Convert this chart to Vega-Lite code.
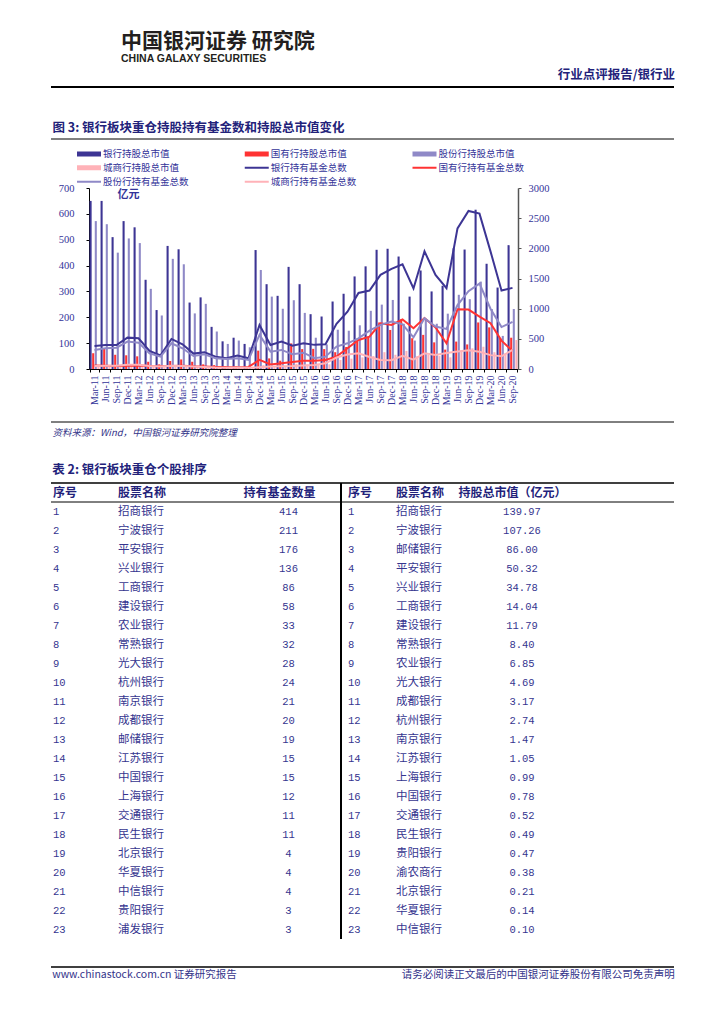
{
  "$schema": "https://vega.github.io/schema/vega-lite/v6.json",
  "padding": {"left": 50, "right": 51, "top": 31, "bottom": 0},
  "config": {
    "view": {"stroke": null},
    "font": "Noto Sans CJK SC",
    "axis": {"grid": false},
    "title": {"font": "Noto Sans CJK SC"}
  },
  "title": {
    "text": "中国银河证券  研究院",
    "subtitle": "CHINA GALAXY SECURITIES",
    "anchor": "start",
    "frame": "group",
    "dx": 70,
    "fontSize": 21,
    "fontWeight": "bold",
    "color": "#231f20",
    "subtitleFont": "Liberation Sans Narrow, Liberation Sans",
    "subtitleFontSize": 10.5,
    "subtitleFontWeight": "bold",
    "subtitleColor": "#231f20",
    "subtitlePadding": 2,
    "offset": 4
  },
  "datasets": {
    "bars": [
      {"q":"Mar-11","s":"银行持股总市值","v":650},{"q":"Jun-11","s":"银行持股总市值","v":650},{"q":"Sep-11","s":"银行持股总市值","v":510},{"q":"Dec-11","s":"银行持股总市值","v":572},
      {"q":"Mar-12","s":"银行持股总市值","v":548},{"q":"Jun-12","s":"银行持股总市值","v":345},{"q":"Sep-12","s":"银行持股总市值","v":228},{"q":"Dec-12","s":"银行持股总市值","v":476},
      {"q":"Mar-13","s":"银行持股总市值","v":463},{"q":"Jun-13","s":"银行持股总市值","v":257},{"q":"Sep-13","s":"银行持股总市值","v":277},{"q":"Dec-13","s":"银行持股总市值","v":163},
      {"q":"Mar-14","s":"银行持股总市值","v":107},{"q":"Jun-14","s":"银行持股总市值","v":121},{"q":"Sep-14","s":"银行持股总市值","v":97},{"q":"Dec-14","s":"银行持股总市值","v":460},
      {"q":"Mar-15","s":"银行持股总市值","v":328},{"q":"Jun-15","s":"银行持股总市值","v":283},{"q":"Sep-15","s":"银行持股总市值","v":395},{"q":"Dec-15","s":"银行持股总市值","v":328},
      {"q":"Mar-16","s":"银行持股总市值","v":212},{"q":"Jun-16","s":"银行持股总市值","v":203},{"q":"Sep-16","s":"银行持股总市值","v":261},{"q":"Dec-16","s":"银行持股总市值","v":291},
      {"q":"Mar-17","s":"银行持股总市值","v":358},{"q":"Jun-17","s":"银行持股总市值","v":397},{"q":"Sep-17","s":"银行持股总市值","v":461},{"q":"Dec-17","s":"银行持股总市值","v":465},
      {"q":"Mar-18","s":"银行持股总市值","v":435},{"q":"Jun-18","s":"银行持股总市值","v":280},{"q":"Sep-18","s":"银行持股总市值","v":381},{"q":"Dec-18","s":"银行持股总市值","v":300},
      {"q":"Mar-19","s":"银行持股总市值","v":322},{"q":"Jun-19","s":"银行持股总市值","v":467},{"q":"Sep-19","s":"银行持股总市值","v":462},{"q":"Dec-19","s":"银行持股总市值","v":616},
      {"q":"Mar-20","s":"银行持股总市值","v":407},{"q":"Jun-20","s":"银行持股总市值","v":315},{"q":"Sep-20","s":"银行持股总市值","v":479},

      {"q":"Mar-11","s":"国有行持股总市值","v":61},{"q":"Jun-11","s":"国有行持股总市值","v":78},{"q":"Sep-11","s":"国有行持股总市值","v":55},{"q":"Dec-11","s":"国有行持股总市值","v":53},
      {"q":"Mar-12","s":"国有行持股总市值","v":49},{"q":"Jun-12","s":"国有行持股总市值","v":28},{"q":"Sep-12","s":"国有行持股总市值","v":18},{"q":"Dec-12","s":"国有行持股总市值","v":31},
      {"q":"Mar-13","s":"国有行持股总市值","v":37},{"q":"Jun-13","s":"国有行持股总市值","v":28},{"q":"Sep-13","s":"国有行持股总市值","v":18},{"q":"Dec-13","s":"国有行持股总市值","v":15},
      {"q":"Mar-14","s":"国有行持股总市值","v":10},{"q":"Jun-14","s":"国有行持股总市值","v":10},{"q":"Sep-14","s":"国有行持股总市值","v":8},{"q":"Dec-14","s":"国有行持股总市值","v":71},
      {"q":"Mar-15","s":"国有行持股总市值","v":41},{"q":"Jun-15","s":"国有行持股总市值","v":32},{"q":"Sep-15","s":"国有行持股总市值","v":99},{"q":"Dec-15","s":"国有行持股总市值","v":77},
      {"q":"Mar-16","s":"国有行持股总市值","v":78},{"q":"Jun-16","s":"国有行持股总市值","v":77},{"q":"Sep-16","s":"国有行持股总市值","v":65},{"q":"Dec-16","s":"国有行持股总市值","v":85},
      {"q":"Mar-17","s":"国有行持股总市值","v":108},{"q":"Jun-17","s":"国有行持股总市值","v":125},{"q":"Sep-17","s":"国有行持股总市值","v":180},{"q":"Dec-17","s":"国有行持股总市值","v":151},
      {"q":"Mar-18","s":"国有行持股总市值","v":192},{"q":"Jun-18","s":"国有行持股总市值","v":119},{"q":"Sep-18","s":"国有行持股总市值","v":132},{"q":"Dec-18","s":"国有行持股总市值","v":103},
      {"q":"Mar-19","s":"国有行持股总市值","v":75},{"q":"Jun-19","s":"国有行持股总市值","v":106},{"q":"Sep-19","s":"国有行持股总市值","v":95},{"q":"Dec-19","s":"国有行持股总市值","v":180},
      {"q":"Mar-20","s":"国有行持股总市值","v":161},{"q":"Jun-20","s":"国有行持股总市值","v":119},{"q":"Sep-20","s":"国有行持股总市值","v":121},

      {"q":"Mar-11","s":"股份行持股总市值","v":572},{"q":"Jun-11","s":"股份行持股总市值","v":560},{"q":"Sep-11","s":"股份行持股总市值","v":450},{"q":"Dec-11","s":"股份行持股总市值","v":505},
      {"q":"Mar-12","s":"股份行持股总市值","v":487},{"q":"Jun-12","s":"股份行持股总市值","v":310},{"q":"Sep-12","s":"股份行持股总市值","v":207},{"q":"Dec-12","s":"股份行持股总市值","v":426},
      {"q":"Mar-13","s":"股份行持股总市值","v":405},{"q":"Jun-13","s":"股份行持股总市值","v":215},{"q":"Sep-13","s":"股份行持股总市值","v":252},{"q":"Dec-13","s":"股份行持股总市值","v":145},
      {"q":"Mar-14","s":"股份行持股总市值","v":97},{"q":"Jun-14","s":"股份行持股总市值","v":110},{"q":"Sep-14","s":"股份行持股总市值","v":84},{"q":"Dec-14","s":"股份行持股总市值","v":383},
      {"q":"Mar-15","s":"股份行持股总市值","v":280},{"q":"Jun-15","s":"股份行持股总市值","v":233},{"q":"Sep-15","s":"股份行持股总市值","v":266},{"q":"Dec-15","s":"股份行持股总市值","v":217},
      {"q":"Mar-16","s":"股份行持股总市值","v":121},{"q":"Jun-16","s":"股份行持股总市值","v":95},{"q":"Sep-16","s":"股份行持股总市值","v":152},{"q":"Dec-16","s":"股份行持股总市值","v":148},
      {"q":"Mar-17","s":"股份行持股总市值","v":169},{"q":"Jun-17","s":"股份行持股总市值","v":225},{"q":"Sep-17","s":"股份行持股总市值","v":249},{"q":"Dec-17","s":"股份行持股总市值","v":267},
      {"q":"Mar-18","s":"股份行持股总市值","v":175},{"q":"Jun-18","s":"股份行持股总市值","v":110},{"q":"Sep-18","s":"股份行持股总市值","v":190},{"q":"Dec-18","s":"股份行持股总市值","v":175},
      {"q":"Mar-19","s":"股份行持股总市值","v":214},{"q":"Jun-19","s":"股份行持股总市值","v":287},{"q":"Sep-19","s":"股份行持股总市值","v":270},{"q":"Dec-19","s":"股份行持股总市值","v":338},
      {"q":"Mar-20","s":"股份行持股总市值","v":232},{"q":"Jun-20","s":"股份行持股总市值","v":128},{"q":"Sep-20","s":"股份行持股总市值","v":232},

      {"q":"Mar-11","s":"城商行持股总市值","v":15},{"q":"Jun-11","s":"城商行持股总市值","v":12},{"q":"Sep-11","s":"城商行持股总市值","v":10},{"q":"Dec-11","s":"城商行持股总市值","v":12},
      {"q":"Mar-12","s":"城商行持股总市值","v":12},{"q":"Jun-12","s":"城商行持股总市值","v":8},{"q":"Sep-12","s":"城商行持股总市值","v":6},{"q":"Dec-12","s":"城商行持股总市值","v":10},
      {"q":"Mar-13","s":"城商行持股总市值","v":10},{"q":"Jun-13","s":"城商行持股总市值","v":7},{"q":"Sep-13","s":"城商行持股总市值","v":6},{"q":"Dec-13","s":"城商行持股总市值","v":5},
      {"q":"Mar-14","s":"城商行持股总市值","v":4},{"q":"Jun-14","s":"城商行持股总市值","v":5},{"q":"Sep-14","s":"城商行持股总市值","v":4},{"q":"Dec-14","s":"城商行持股总市值","v":15},
      {"q":"Mar-15","s":"城商行持股总市值","v":12},{"q":"Jun-15","s":"城商行持股总市值","v":10},{"q":"Sep-15","s":"城商行持股总市值","v":20},{"q":"Dec-15","s":"城商行持股总市值","v":18},
      {"q":"Mar-16","s":"城商行持股总市值","v":15},{"q":"Jun-16","s":"城商行持股总市值","v":18},{"q":"Sep-16","s":"城商行持股总市值","v":35},{"q":"Dec-16","s":"城商行持股总市值","v":40},
      {"q":"Mar-17","s":"城商行持股总市值","v":45},{"q":"Jun-17","s":"城商行持股总市值","v":50},{"q":"Sep-17","s":"城商行持股总市值","v":65},{"q":"Dec-17","s":"城商行持股总市值","v":55},
      {"q":"Mar-18","s":"城商行持股总市值","v":70},{"q":"Jun-18","s":"城商行持股总市值","v":50},{"q":"Sep-18","s":"城商行持股总市值","v":55},{"q":"Dec-18","s":"城商行持股总市值","v":50},
      {"q":"Mar-19","s":"城商行持股总市值","v":45},{"q":"Jun-19","s":"城商行持股总市值","v":70},{"q":"Sep-19","s":"城商行持股总市值","v":80},{"q":"Dec-19","s":"城商行持股总市值","v":86},
      {"q":"Mar-20","s":"城商行持股总市值","v":65},{"q":"Jun-20","s":"城商行持股总市值","v":60},{"q":"Sep-20","s":"城商行持股总市值","v":112}
    ],
    "lines": [
      {"q":"Mar-11","s":"银行持有基金总数","n":382},{"q":"Jun-11","s":"银行持有基金总数","n":398},{"q":"Sep-11","s":"银行持有基金总数","n":398},{"q":"Dec-11","s":"银行持有基金总数","n":520},
      {"q":"Mar-12","s":"银行持有基金总数","n":509},{"q":"Jun-12","s":"银行持有基金总数","n":300},{"q":"Sep-12","s":"银行持有基金总数","n":225},{"q":"Dec-12","s":"银行持有基金总数","n":498},
      {"q":"Mar-13","s":"银行持有基金总数","n":409},{"q":"Jun-13","s":"银行持有基金总数","n":255},{"q":"Sep-13","s":"银行持有基金总数","n":277},{"q":"Dec-13","s":"银行持有基金总数","n":205},
      {"q":"Mar-14","s":"银行持有基金总数","n":177},{"q":"Jun-14","s":"银行持有基金总数","n":222},{"q":"Sep-14","s":"银行持有基金总数","n":177},{"q":"Dec-14","s":"银行持有基金总数","n":730},
      {"q":"Mar-15","s":"银行持有基金总数","n":398},{"q":"Jun-15","s":"银行持有基金总数","n":454},{"q":"Sep-15","s":"银行持有基金总数","n":387},{"q":"Dec-15","s":"银行持有基金总数","n":426},
      {"q":"Mar-16","s":"银行持有基金总数","n":400},{"q":"Jun-16","s":"银行持有基金总数","n":410},{"q":"Sep-16","s":"银行持有基金总数","n":750},{"q":"Dec-16","s":"银行持有基金总数","n":950},
      {"q":"Mar-17","s":"银行持有基金总数","n":1260},{"q":"Jun-17","s":"银行持有基金总数","n":1300},{"q":"Sep-17","s":"银行持有基金总数","n":1560},{"q":"Dec-17","s":"银行持有基金总数","n":1660},
      {"q":"Mar-18","s":"银行持有基金总数","n":1735},{"q":"Jun-18","s":"银行持有基金总数","n":1335},{"q":"Sep-18","s":"银行持有基金总数","n":1950},{"q":"Dec-18","s":"银行持有基金总数","n":1560},
      {"q":"Mar-19","s":"银行持有基金总数","n":1340},{"q":"Jun-19","s":"银行持有基金总数","n":2330},{"q":"Sep-19","s":"银行持有基金总数","n":2620},{"q":"Dec-19","s":"银行持有基金总数","n":2575},
      {"q":"Mar-20","s":"银行持有基金总数","n":1950},{"q":"Jun-20","s":"银行持有基金总数","n":1300},{"q":"Sep-20","s":"银行持有基金总数","n":1345},

      {"q":"Mar-11","s":"国有行持有基金总数","n":60},{"q":"Jun-11","s":"国有行持有基金总数","n":55},{"q":"Sep-11","s":"国有行持有基金总数","n":50},{"q":"Dec-11","s":"国有行持有基金总数","n":55},
      {"q":"Mar-12","s":"国有行持有基金总数","n":60},{"q":"Jun-12","s":"国有行持有基金总数","n":50},{"q":"Sep-12","s":"国有行持有基金总数","n":45},{"q":"Dec-12","s":"国有行持有基金总数","n":50},
      {"q":"Mar-13","s":"国有行持有基金总数","n":55},{"q":"Jun-13","s":"国有行持有基金总数","n":45},{"q":"Sep-13","s":"国有行持有基金总数","n":40},{"q":"Dec-13","s":"国有行持有基金总数","n":35},
      {"q":"Mar-14","s":"国有行持有基金总数","n":30},{"q":"Jun-14","s":"国有行持有基金总数","n":30},{"q":"Sep-14","s":"国有行持有基金总数","n":35},{"q":"Dec-14","s":"国有行持有基金总数","n":150},
      {"q":"Mar-15","s":"国有行持有基金总数","n":75},{"q":"Jun-15","s":"国有行持有基金总数","n":95},{"q":"Sep-15","s":"国有行持有基金总数","n":115},{"q":"Dec-15","s":"国有行持有基金总数","n":135},
      {"q":"Mar-16","s":"国有行持有基金总数","n":135},{"q":"Jun-16","s":"国有行持有基金总数","n":150},{"q":"Sep-16","s":"国有行持有基金总数","n":205},{"q":"Dec-16","s":"国有行持有基金总数","n":343},
      {"q":"Mar-17","s":"国有行持有基金总数","n":482},{"q":"Jun-17","s":"国有行持有基金总数","n":537},{"q":"Sep-17","s":"国有行持有基金总数","n":758},{"q":"Dec-17","s":"国有行持有基金总数","n":731},
      {"q":"Mar-18","s":"国有行持有基金总数","n":820},{"q":"Jun-18","s":"国有行持有基金总数","n":675},{"q":"Sep-18","s":"国有行持有基金总数","n":845},{"q":"Dec-18","s":"国有行持有基金总数","n":690},
      {"q":"Mar-19","s":"国有行持有基金总数","n":426},{"q":"Jun-19","s":"国有行持有基金总数","n":990},{"q":"Sep-19","s":"国有行持有基金总数","n":985},{"q":"Dec-19","s":"国有行持有基金总数","n":869},
      {"q":"Mar-20","s":"国有行持有基金总数","n":758},{"q":"Jun-20","s":"国有行持有基金总数","n":470},{"q":"Sep-20","s":"国有行持有基金总数","n":300},

      {"q":"Mar-11","s":"股份行持有基金总数","n":316},{"q":"Jun-11","s":"股份行持有基金总数","n":343},{"q":"Sep-11","s":"股份行持有基金总数","n":354},{"q":"Dec-11","s":"股份行持有基金总数","n":454},
      {"q":"Mar-12","s":"股份行持有基金总数","n":437},{"q":"Jun-12","s":"股份行持有基金总数","n":260},{"q":"Sep-12","s":"股份行持有基金总数","n":205},{"q":"Dec-12","s":"股份行持有基金总数","n":426},
      {"q":"Mar-13","s":"股份行持有基金总数","n":343},{"q":"Jun-13","s":"股份行持有基金总数","n":215},{"q":"Sep-13","s":"股份行持有基金总数","n":244},{"q":"Dec-13","s":"股份行持有基金总数","n":177},
      {"q":"Mar-14","s":"股份行持有基金总数","n":166},{"q":"Jun-14","s":"股份行持有基金总数","n":177},{"q":"Sep-14","s":"股份行持有基金总数","n":150},{"q":"Dec-14","s":"股份行持有基金总数","n":565},
      {"q":"Mar-15","s":"股份行持有基金总数","n":288},{"q":"Jun-15","s":"股份行持有基金总数","n":316},{"q":"Sep-15","s":"股份行持有基金总数","n":244},{"q":"Dec-15","s":"股份行持有基金总数","n":270},
      {"q":"Mar-16","s":"股份行持有基金总数","n":180},{"q":"Jun-16","s":"股份行持有基金总数","n":205},{"q":"Sep-16","s":"股份行持有基金总数","n":371},{"q":"Dec-16","s":"股份行持有基金总数","n":426},
      {"q":"Mar-17","s":"股份行持有基金总数","n":509},{"q":"Jun-17","s":"股份行持有基金总数","n":637},{"q":"Sep-17","s":"股份行持有基金总数","n":731},{"q":"Dec-17","s":"股份行持有基金总数","n":786},
      {"q":"Mar-18","s":"股份行持有基金总数","n":740},{"q":"Jun-18","s":"股份行持有基金总数","n":525},{"q":"Sep-18","s":"股份行持有基金总数","n":841},{"q":"Dec-18","s":"股份行持有基金总数","n":703},
      {"q":"Mar-19","s":"股份行持有基金总数","n":665},{"q":"Jun-19","s":"股份行持有基金总数","n":1060},{"q":"Sep-19","s":"股份行持有基金总数","n":1290},{"q":"Dec-19","s":"股份行持有基金总数","n":1415},
      {"q":"Mar-20","s":"股份行持有基金总数","n":1000},{"q":"Jun-20","s":"股份行持有基金总数","n":695},{"q":"Sep-20","s":"股份行持有基金总数","n":780},

      {"q":"Mar-11","s":"城商行持有基金总数","n":50},{"q":"Jun-11","s":"城商行持有基金总数","n":55},{"q":"Sep-11","s":"城商行持有基金总数","n":55},{"q":"Dec-11","s":"城商行持有基金总数","n":70},
      {"q":"Mar-12","s":"城商行持有基金总数","n":70},{"q":"Jun-12","s":"城商行持有基金总数","n":50},{"q":"Sep-12","s":"城商行持有基金总数","n":40},{"q":"Dec-12","s":"城商行持有基金总数","n":55},
      {"q":"Mar-13","s":"城商行持有基金总数","n":50},{"q":"Jun-13","s":"城商行持有基金总数","n":40},{"q":"Sep-13","s":"城商行持有基金总数","n":35},{"q":"Dec-13","s":"城商行持有基金总数","n":25},
      {"q":"Mar-14","s":"城商行持有基金总数","n":20},{"q":"Jun-14","s":"城商行持有基金总数","n":25},{"q":"Sep-14","s":"城商行持有基金总数","n":20},{"q":"Dec-14","s":"城商行持有基金总数","n":30},
      {"q":"Mar-15","s":"城商行持有基金总数","n":40},{"q":"Jun-15","s":"城商行持有基金总数","n":45},{"q":"Sep-15","s":"城商行持有基金总数","n":50},{"q":"Dec-15","s":"城商行持有基金总数","n":60},
      {"q":"Mar-16","s":"城商行持有基金总数","n":66},{"q":"Jun-16","s":"城商行持有基金总数","n":94},{"q":"Sep-16","s":"城商行持有基金总数","n":190},{"q":"Dec-16","s":"城商行持有基金总数","n":240},
      {"q":"Mar-17","s":"城商行持有基金总数","n":260},{"q":"Jun-17","s":"城商行持有基金总数","n":200},{"q":"Sep-17","s":"城商行持有基金总数","n":150},{"q":"Dec-17","s":"城商行持有基金总数","n":145},
      {"q":"Mar-18","s":"城商行持有基金总数","n":220},{"q":"Jun-18","s":"城商行持有基金总数","n":155},{"q":"Sep-18","s":"城商行持有基金总数","n":260},{"q":"Dec-18","s":"城商行持有基金总数","n":232},
      {"q":"Mar-19","s":"城商行持有基金总数","n":265},{"q":"Jun-19","s":"城商行持有基金总数","n":290},{"q":"Sep-19","s":"城商行持有基金总数","n":310},{"q":"Dec-19","s":"城商行持有基金总数","n":285},
      {"q":"Mar-20","s":"城商行持有基金总数","n":230},{"q":"Jun-20","s":"城商行持有基金总数","n":210},{"q":"Sep-20","s":"城商行持有基金总数","n":316}
    ],
    "table": [
      {"rank":1,"a_name":"招商银行","funds":414,"b_name":"招商银行","mv":139.97},
      {"rank":2,"a_name":"宁波银行","funds":211,"b_name":"宁波银行","mv":107.26},
      {"rank":3,"a_name":"平安银行","funds":176,"b_name":"邮储银行","mv":86.00},
      {"rank":4,"a_name":"兴业银行","funds":136,"b_name":"平安银行","mv":50.32},
      {"rank":5,"a_name":"工商银行","funds":86,"b_name":"兴业银行","mv":34.78},
      {"rank":6,"a_name":"建设银行","funds":58,"b_name":"工商银行","mv":14.04},
      {"rank":7,"a_name":"农业银行","funds":33,"b_name":"建设银行","mv":11.79},
      {"rank":8,"a_name":"常熟银行","funds":32,"b_name":"常熟银行","mv":8.40},
      {"rank":9,"a_name":"光大银行","funds":28,"b_name":"农业银行","mv":6.85},
      {"rank":10,"a_name":"杭州银行","funds":24,"b_name":"光大银行","mv":4.69},
      {"rank":11,"a_name":"南京银行","funds":21,"b_name":"成都银行","mv":3.17},
      {"rank":12,"a_name":"成都银行","funds":20,"b_name":"杭州银行","mv":2.74},
      {"rank":13,"a_name":"邮储银行","funds":19,"b_name":"南京银行","mv":1.47},
      {"rank":14,"a_name":"江苏银行","funds":15,"b_name":"江苏银行","mv":1.05},
      {"rank":15,"a_name":"中国银行","funds":15,"b_name":"上海银行","mv":0.99},
      {"rank":16,"a_name":"上海银行","funds":12,"b_name":"中国银行","mv":0.78},
      {"rank":17,"a_name":"交通银行","funds":11,"b_name":"交通银行","mv":0.52},
      {"rank":18,"a_name":"民生银行","funds":11,"b_name":"民生银行","mv":0.49},
      {"rank":19,"a_name":"北京银行","funds":4,"b_name":"贵阳银行","mv":0.47},
      {"rank":20,"a_name":"华夏银行","funds":4,"b_name":"渝农商行","mv":0.38},
      {"rank":21,"a_name":"中信银行","funds":4,"b_name":"北京银行","mv":0.21},
      {"rank":22,"a_name":"贵阳银行","funds":3,"b_name":"华夏银行","mv":0.14},
      {"rank":23,"a_name":"浦发银行","funds":3,"b_name":"中信银行","mv":0.10}
    ]
  },
  "columns": 1,
  "spacing": 26,
  "align": "none",
  "resolve": {"scale": {"color": "independent"}, "legend": {"color": "independent"}},
  "concat": [
    {
      "width": 623,
      "height": 9,
      "title": {"text": "行业点评报告/银行业", "anchor": "end", "fontSize": 12.5, "fontWeight": "bold", "color": "#22227a", "offset": 5},
      "data": {"values": [{"rule": "page header"}]},
      "mark": {"type": "rule", "color": "#000000", "strokeWidth": 2},
      "encoding": {"y": {"value": 0}}
    },
    {
      "columns": 1,
      "spacing": 0,
      "align": "none",
      "resolve": {"scale": {"color": "independent"}, "legend": {"color": "independent"}},
      "concat": [
        {
          "width": 623,
          "height": 7.5,
          "title": {"text": "图 3: 银行板块重仓持股持有基金数和持股总市值变化", "anchor": "start", "dx": 2, "fontSize": 12.5, "fontWeight": "bold", "color": "#22227a", "offset": 4},
          "data": {"values": [{"rule": "figure top"}]},
          "mark": {"type": "rule", "color": "#000000", "strokeWidth": 1},
          "encoding": {"y": {"value": 0}}
        },
        {
          "spacing": 0,
          "resolve": {"scale": {"color": "independent"}, "legend": {"color": "independent"}},
          "hconcat": [
            {
              "width": 7,
              "height": 1,
              "data": {"values": []},
              "mark": {"type": "point"}
            },
            {
              "width": 429,
              "height": 181,
              "encoding": {
                "x": {
                  "field": "q",
                  "type": "nominal",
                  "sort": ["Mar-11","Jun-11","Sep-11","Dec-11","Mar-12","Jun-12","Sep-12","Dec-12","Mar-13","Jun-13","Sep-13","Dec-13","Mar-14","Jun-14","Sep-14","Dec-14","Mar-15","Jun-15","Sep-15","Dec-15","Mar-16","Jun-16","Sep-16","Dec-16","Mar-17","Jun-17","Sep-17","Dec-17","Mar-18","Jun-18","Sep-18","Dec-18","Mar-19","Jun-19","Sep-19","Dec-19","Mar-20","Jun-20","Sep-20"],
                  "scale": {"type": "band", "paddingInner": 0.1, "paddingOuter": 0.05},
                  "axis": {
                    "title": null,
                    "labelAngle": -90,
                    "labelFont": "Liberation Serif",
                    "labelFontSize": 10,
                    "labelColor": "#333399",
                    "labelPadding": 3,
                    "tickSize": 3,
                    "tickColor": "#000000",
                    "tickBand": "extent",
                    "domainColor": "#000000",
                    "domainWidth": 1.2
                  }
                }
              },
              "layer": [
                {
                  "data": {"name": "bars"},
                  "mark": {"type": "bar"},
                  "encoding": {
                    "xOffset": {
                      "field": "s",
                      "type": "nominal",
                      "scale": {"domain": ["银行持股总市值","国有行持股总市值","股份行持股总市值","城商行持股总市值"], "paddingInner": 0.2}
                    },
                    "y": {
                      "field": "v",
                      "type": "quantitative",
                      "scale": {"domain": [0, 700], "nice": false},
                      "axis": {
                        "title": "亿元",
                        "titleAngle": 0,
                        "titleX": 28,
                        "titleY": 6.5,
                        "titleAlign": "left",
                        "titleBaseline": "middle",
                        "titleFont": "Noto Sans CJK SC",
                        "titleFontSize": 11,
                        "titleFontWeight": "bold",
                        "titleColor": "#333399",
                        "values": [0, 100, 200, 300, 400, 500, 600, 700],
                        "labelFont": "Liberation Serif",
                        "labelFontSize": 10.5,
                        "labelColor": "#333399",
                        "labelPadding": 12,
                        "tickSize": 3,
                        "tickColor": "#000000",
                        "domainColor": "#000000"
                      }
                    },
                    "color": {
                      "field": "s",
                      "type": "nominal",
                      "title": null,
                      "scale": {
                        "domain": ["银行持股总市值","国有行持股总市值","股份行持股总市值","城商行持股总市值","银行持有基金总数","国有行持有基金总数","股份行持有基金总数","城商行持有基金总数"],
                        "range": ["#3d3594","#ff3333","#8f89c7","#ffb2b8","#3d3594","#ff3333","#8f89c7","#ffb2b8"]
                      },
                      "legend": {
                        "orient": "none",
                        "legendX": -16.75,
                        "legendY": -41,
                        "direction": "horizontal",
                        "columns": 3,
                        "columnPadding": 50.75,
                        "rowPadding": 0,
                        "clipHeight": 13.5,
                        "symbolType": "M0,0H12",
                        "symbolSize": 16,
                        "symbolStrokeWidth": 2,
                        "labelOffset": 21.25,
                        "labelFont": "Noto Sans CJK SC",
                        "labelFontSize": 9.5,
                        "labelColor": "#333399",
                        "encode": {
                          "symbols": {
                            "update": {
                              "stroke": {"scale": "color", "field": "value"},
                              "fill": {"value": "transparent"},
                              "strokeWidth": {"signal": "indexof(['银行持股总市值','国有行持股总市值','股份行持股总市值','城商行持股总市值'], datum.value) >= 0 ? 5 : 2"}
                            }
                          }
                        }
                      }
                    }
                  }
                },
                {
                  "data": {"name": "lines"},
                  "mark": {"type": "line", "strokeWidth": 2},
                  "encoding": {
                    "y": {
                      "field": "n",
                      "type": "quantitative",
                      "scale": {"domain": [0, 3000], "nice": false},
                      "axis": {
                        "orient": "right",
                        "title": null,
                        "format": "d",
                        "values": [0, 500, 1000, 1500, 2000, 2500, 3000],
                        "labelFont": "Liberation Serif",
                        "labelFontSize": 10.5,
                        "labelColor": "#333399",
                        "labelPadding": 7,
                        "tickSize": 3,
                        "tickColor": "#555555",
                        "domainColor": "#555555",
                        "domainWidth": 1.5
                      }
                    },
                    "color": {"field": "s", "type": "nominal"}
                  }
                }
              ],
              "resolve": {"scale": {"y": "independent"}}
            }
          ]
        },
        {
          "width": 623,
          "height": 17,
          "title": {"text": "资料来源：Wind，中国银河证券研究院整理", "orient": "bottom", "anchor": "start", "dx": 2, "fontSize": 9.5, "fontStyle": "italic", "fontWeight": "normal", "color": "#333388", "offset": 5},
          "data": {"values": [{"rule": "figure bottom"}]},
          "mark": {"type": "rule", "color": "#000000", "strokeWidth": 1},
          "encoding": {"y": {"value": "height"}}
        }
      ]
    },
    {
      "width": 623,
      "height": 456,
      "title": {"text": "表 2: 银行板块重仓个股排序", "anchor": "start", "dx": 2, "fontSize": 12.5, "fontWeight": "bold", "color": "#22227a", "offset": 6},
      "layer": [
        {
          "data": {"name": "table"},
          "mark": {"type": "text", "align": "left", "baseline": "middle", "dx": -48, "font": "Liberation Mono", "fontSize": 10.5, "color": "#35358f"},
          "encoding": {
            "x": {
              "datum": "c1",
              "type": "nominal",
              "scale": {"type": "band", "domain": ["c1","c2","c3","c4","c5","c6"], "paddingInner": 0, "paddingOuter": 0.2448, "align": 0.0426},
              "axis": null
            },
            "y": {
              "field": "rank",
              "type": "ordinal",
              "scale": {"type": "band", "domain": [0,1,2,3,4,5,6,7,8,9,10,11,12,13,14,15,16,17,18,19,20,21,22,23], "paddingInner": 0, "paddingOuter": 0},
              "axis": null
            },
            "text": {"field": "rank", "type": "nominal"}
          }
        },
        {
          "data": {"name": "table"},
          "mark": {"type": "text", "align": "left", "baseline": "middle", "dx": -79, "font": "Noto Sans CJK SC", "fontSize": 11.5, "color": "#35358f"},
          "encoding": {
            "x": {"datum": "c2", "type": "nominal", "scale": {"type": "band"}, "axis": null},
            "y": {"field": "rank", "type": "ordinal", "scale": {"type": "band"}, "axis": null},
            "text": {"field": "a_name", "type": "nominal"}
          }
        },
        {
          "data": {"name": "table"},
          "mark": {"type": "text", "align": "center", "baseline": "middle", "dx": -4.5, "font": "Liberation Mono", "fontSize": 10.5, "color": "#35358f"},
          "encoding": {
            "x": {"datum": "c3", "type": "nominal", "scale": {"type": "band"}, "axis": null},
            "y": {"field": "rank", "type": "ordinal", "scale": {"type": "band"}, "axis": null},
            "text": {"field": "funds", "type": "nominal"}
          }
        },
        {
          "data": {"name": "table"},
          "mark": {"type": "text", "align": "left", "baseline": "middle", "dx": -41, "font": "Liberation Mono", "fontSize": 10.5, "color": "#35358f"},
          "encoding": {
            "x": {"datum": "c4", "type": "nominal", "scale": {"type": "band"}, "axis": null},
            "y": {"field": "rank", "type": "ordinal", "scale": {"type": "band"}, "axis": null},
            "text": {"field": "rank", "type": "nominal"}
          }
        },
        {
          "data": {"name": "table"},
          "mark": {"type": "text", "align": "left", "baseline": "middle", "dx": -89, "font": "Noto Sans CJK SC", "fontSize": 11.5, "color": "#35358f"},
          "encoding": {
            "x": {"datum": "c5", "type": "nominal", "scale": {"type": "band"}, "axis": null},
            "y": {"field": "rank", "type": "ordinal", "scale": {"type": "band"}, "axis": null},
            "text": {"field": "b_name", "type": "nominal"}
          }
        },
        {
          "data": {"name": "table"},
          "mark": {"type": "text", "align": "center", "baseline": "middle", "dx": -59, "font": "Liberation Mono", "fontSize": 10.5, "color": "#35358f"},
          "encoding": {
            "x": {"datum": "c6", "type": "nominal", "scale": {"type": "band"}, "axis": null},
            "y": {"field": "rank", "type": "ordinal", "scale": {"type": "band"}, "axis": null},
            "text": {"field": "mv", "type": "quantitative", "format": ".2f"}
          }
        },
        {
          "data": {"values": [{"label": "序号"}]},
          "mark": {"type": "text", "align": "left", "baseline": "middle", "dx": -48, "font": "Noto Sans CJK SC", "fontSize": 12, "fontWeight": "bold", "color": "#22227a"},
          "encoding": {
            "x": {"datum": "c1", "type": "nominal", "scale": {"type": "band"}, "axis": null},
            "y": {"datum": 0, "type": "ordinal", "scale": {"type": "band"}, "axis": null},
            "text": {"field": "label", "type": "nominal"}
          }
        },
        {
          "data": {"values": [{"label": "股票名称"}]},
          "mark": {"type": "text", "align": "left", "baseline": "middle", "dx": -79, "font": "Noto Sans CJK SC", "fontSize": 12, "fontWeight": "bold", "color": "#22227a"},
          "encoding": {
            "x": {"datum": "c2", "type": "nominal", "scale": {"type": "band"}, "axis": null},
            "y": {"datum": 0, "type": "ordinal", "scale": {"type": "band"}, "axis": null},
            "text": {"field": "label", "type": "nominal"}
          }
        },
        {
          "data": {"values": [{"label": "持有基金数量"}]},
          "mark": {"type": "text", "align": "center", "baseline": "middle", "dx": -13.5, "font": "Noto Sans CJK SC", "fontSize": 12, "fontWeight": "bold", "color": "#22227a"},
          "encoding": {
            "x": {"datum": "c3", "type": "nominal", "scale": {"type": "band"}, "axis": null},
            "y": {"datum": 0, "type": "ordinal", "scale": {"type": "band"}, "axis": null},
            "text": {"field": "label", "type": "nominal"}
          }
        },
        {
          "data": {"values": [{"label": "序号"}]},
          "mark": {"type": "text", "align": "left", "baseline": "middle", "dx": -41, "font": "Noto Sans CJK SC", "fontSize": 12, "fontWeight": "bold", "color": "#22227a"},
          "encoding": {
            "x": {"datum": "c4", "type": "nominal", "scale": {"type": "band"}, "axis": null},
            "y": {"datum": 0, "type": "ordinal", "scale": {"type": "band"}, "axis": null},
            "text": {"field": "label", "type": "nominal"}
          }
        },
        {
          "data": {"values": [{"label": "股票名称"}]},
          "mark": {"type": "text", "align": "left", "baseline": "middle", "dx": -89, "font": "Noto Sans CJK SC", "fontSize": 12, "fontWeight": "bold", "color": "#22227a"},
          "encoding": {
            "x": {"datum": "c5", "type": "nominal", "scale": {"type": "band"}, "axis": null},
            "y": {"datum": 0, "type": "ordinal", "scale": {"type": "band"}, "axis": null},
            "text": {"field": "label", "type": "nominal"}
          }
        },
        {
          "data": {"values": [{"label": "持股总市值（亿元）"}]},
          "mark": {"type": "text", "align": "center", "baseline": "middle", "dx": -68.5, "font": "Noto Sans CJK SC", "fontSize": 12, "fontWeight": "bold", "color": "#22227a"},
          "encoding": {
            "x": {"datum": "c6", "type": "nominal", "scale": {"type": "band"}, "axis": null},
            "y": {"datum": 0, "type": "ordinal", "scale": {"type": "band"}, "axis": null},
            "text": {"field": "label", "type": "nominal"}
          }
        },
        {
          "data": {"values": [{"rule": "table top"}]},
          "mark": {"type": "rule", "color": "#000000", "strokeWidth": 1.5},
          "encoding": {
            "y": {"datum": 0, "type": "ordinal", "scale": {"type": "band"}, "bandPosition": 0, "axis": null}
          }
        },
        {
          "data": {"values": [{"rule": "under header"}]},
          "mark": {"type": "rule", "color": "#000000", "strokeWidth": 1},
          "encoding": {
            "y": {"datum": 1, "type": "ordinal", "scale": {"type": "band"}, "bandPosition": 0, "axis": null}
          }
        },
        {
          "data": {"values": [{"rule": "column separator"}]},
          "mark": {"type": "rule", "color": "#000000", "strokeWidth": 2},
          "encoding": {
            "x": {"datum": "c4", "type": "nominal", "scale": {"type": "band"}, "bandPosition": 0, "axis": null}
          }
        }
      ]
    },
    {
      "spacing": 0,
      "bounds": "flush",
      "hconcat": [
        {
          "width": 311,
          "height": 1,
          "title": {"text": "www.chinastock.com.cn 证券研究报告", "orient": "bottom", "anchor": "start", "dx": 2, "fontSize": 10.5, "fontWeight": "normal", "color": "#33338a", "offset": 2},
          "data": {"values": [{"rule": "footer left"}]},
          "mark": {"type": "rule", "color": "#000000", "strokeWidth": 1.5},
          "encoding": {"y": {"value": 0}}
        },
        {
          "width": 312,
          "height": 1,
          "title": {"text": "请务必阅读正文最后的中国银河证券股份有限公司免责声明", "orient": "bottom", "anchor": "end", "fontSize": 10.5, "fontWeight": "normal", "color": "#33338a", "offset": 2},
          "data": {"values": [{"rule": "footer right"}]},
          "mark": {"type": "rule", "color": "#000000", "strokeWidth": 1.5},
          "encoding": {"y": {"value": 0}}
        }
      ]
    }
  ]
}
